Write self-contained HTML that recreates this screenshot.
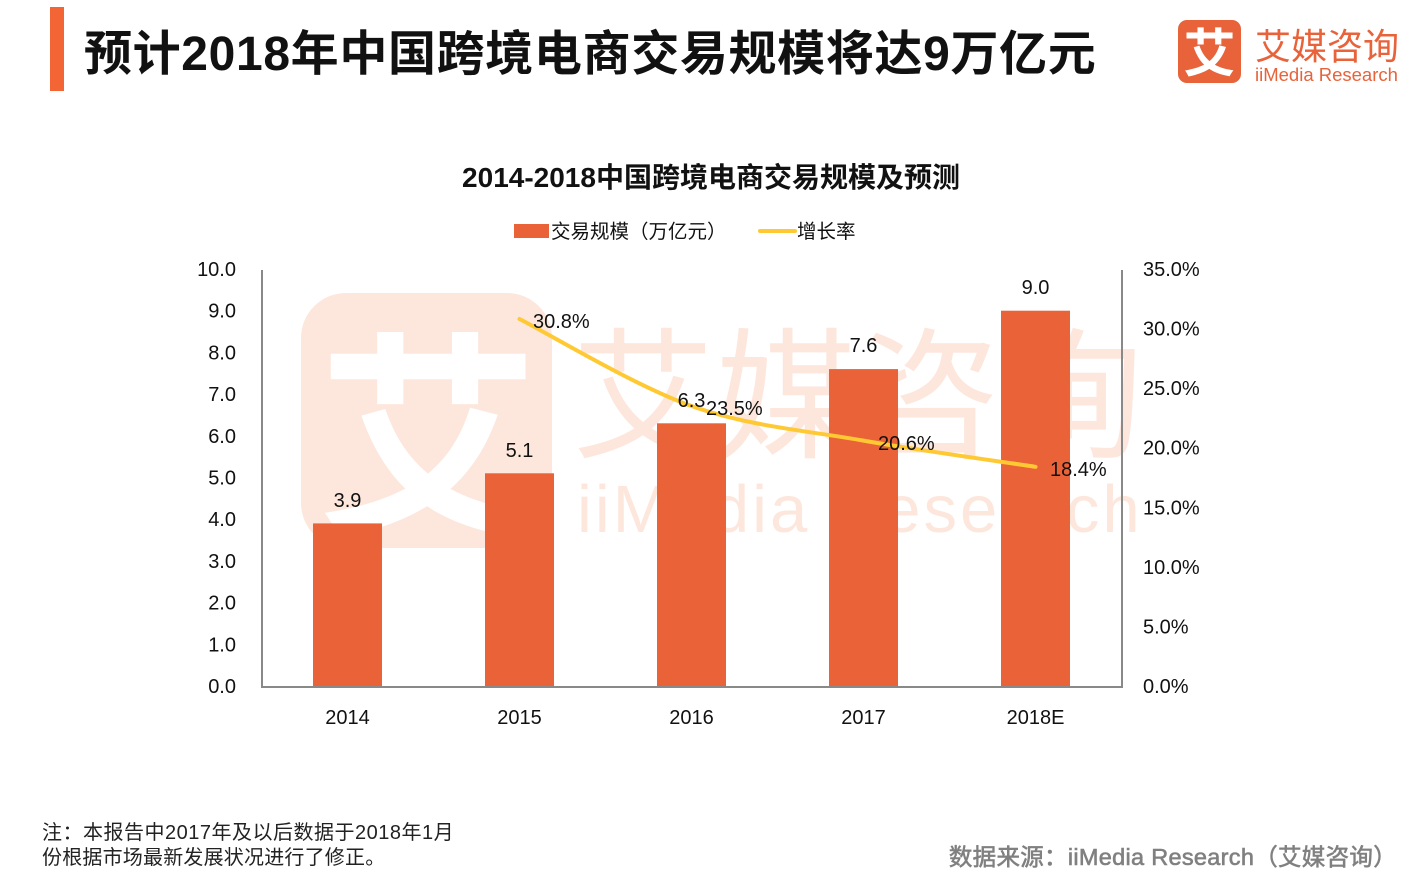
<!DOCTYPE html>
<html><head><meta charset="utf-8">
<style>
html,body{margin:0;padding:0;background:#fff;}
svg{display:block;}
text{font-family:"Liberation Sans","Noto Sans CJK SC",sans-serif;}
</style></head>
<body>
<svg width="1427" height="881" viewBox="0 0 1427 881" xmlns="http://www.w3.org/2000/svg">
<rect x="0" y="0" width="1427" height="881" fill="#fff"/>
<!-- header -->
<rect x="50" y="7" width="14" height="84" fill="#F46535"/>
<text x="84" y="70" font-size="48" font-weight="bold" fill="#111" letter-spacing="0.65">预计2018年中国跨境电商交易规模将达9万亿元</text>
<!-- logo -->
<rect x="1178" y="20" width="63" height="63" rx="9" fill="#E8623A"/>
<text x="1209.5" y="72" font-size="52" font-weight="bold" fill="#fff" text-anchor="middle">艾</text>
<text x="1255" y="59" font-size="36" fill="#E8623A">艾媒咨询</text>
<text x="1255" y="81" font-size="18.5" fill="#E8623A">iiMedia Research</text>

<!-- watermark -->
<rect x="301" y="293" width="251" height="255" rx="45" fill="#FDE7DD"/>
<text x="428" y="519" font-size="220" font-weight="bold" fill="#fff" text-anchor="middle">艾</text>
<text x="572" y="447" font-size="142" fill="#FDE7DD" letter-spacing="1">艾媒咨询</text>
<text x="577" y="532" font-size="67" fill="#FDE7DD" letter-spacing="3">iiMedia Research</text>

<!-- chart title -->
<text x="711" y="187" font-size="28" font-weight="bold" fill="#111" text-anchor="middle">2014-2018中国跨境电商交易规模及预测</text>

<!-- legend -->
<rect x="514" y="224" width="35" height="14" fill="#E96238"/>
<text x="551" y="238" font-size="19.5" fill="#111">交易规模（万亿元）</text>
<line x1="760" y1="231" x2="795" y2="231" stroke="#FFC933" stroke-width="4" stroke-linecap="round"/>
<text x="797" y="238" font-size="19.5" fill="#111">增长率</text>

<!-- bars -->
<g fill="#E96238">
<rect x="313" y="523.4" width="69" height="163.6"/>
<rect x="485" y="473.3" width="69" height="213.7"/>
<rect x="657" y="423.3" width="69" height="263.7"/>
<rect x="829" y="369.1" width="69" height="317.9"/>
<rect x="1001" y="310.7" width="69" height="376.3"/>
</g>

<!-- axes -->
<g stroke="#898989" stroke-width="2" fill="none">
<line x1="262" y1="270" x2="262" y2="688"/>
<line x1="261" y1="687" x2="1123" y2="687"/>
<line x1="1122" y1="270" x2="1122" y2="688"/>
</g>

<!-- left ticks -->
<g font-size="20" fill="#111" text-anchor="end">
<text x="236" y="276">10.0</text>
<text x="236" y="317.7">9.0</text>
<text x="236" y="359.4">8.0</text>
<text x="236" y="401.1">7.0</text>
<text x="236" y="442.8">6.0</text>
<text x="236" y="484.5">5.0</text>
<text x="236" y="526.2">4.0</text>
<text x="236" y="567.9">3.0</text>
<text x="236" y="609.6">2.0</text>
<text x="236" y="651.3">1.0</text>
<text x="236" y="693">0.0</text>
</g>
<!-- right ticks -->
<g font-size="20" fill="#111" text-anchor="start">
<text x="1143" y="276">35.0%</text>
<text x="1143" y="335.6">30.0%</text>
<text x="1143" y="395.1">25.0%</text>
<text x="1143" y="454.7">20.0%</text>
<text x="1143" y="514.3">15.0%</text>
<text x="1143" y="573.9">10.0%</text>
<text x="1143" y="633.4">5.0%</text>
<text x="1143" y="693">0.0%</text>
</g>
<!-- x labels -->
<g font-size="20" fill="#111" text-anchor="middle">
<text x="347.5" y="724">2014</text>
<text x="519.5" y="724">2015</text>
<text x="691.5" y="724">2016</text>
<text x="863.5" y="724">2017</text>
<text x="1035.5" y="724">2018E</text>
</g>

<!-- line -->
<path d="M519.5,319 C548.2,333.5 634.2,385.7 691.5,406 C748.8,426.3 806.2,430.5 863.5,440.6 C920.8,450.7 1006.8,462.4 1035.5,466.8" stroke="#FFC933" stroke-width="4" fill="none" stroke-linecap="round"/>

<!-- bar value labels -->
<g font-size="20" fill="#111" text-anchor="middle">
<text x="347.5" y="507">3.9</text>
<text x="519.5" y="457">5.1</text>
<text x="691.5" y="407">6.3</text>
<text x="863.5" y="352">7.6</text>
<text x="1035.5" y="294">9.0</text>
</g>
<!-- percent labels -->
<g font-size="20" fill="#111">
<text x="533" y="328">30.8%</text>
<text x="706" y="415">23.5%</text>
<text x="878" y="450">20.6%</text>
<text x="1050" y="476">18.4%</text>
</g>

<!-- footnote -->
<text x="42" y="839" font-size="20" fill="#222" letter-spacing="0.5">注：本报告中2017年及以后数据于2018年1月</text>
<text x="42" y="864" font-size="20" fill="#222" letter-spacing="0.2">份根据市场最新发展状况进行了修正。</text>
<text x="1397" y="865" font-size="23.5" fill="#808080" stroke="#808080" stroke-width="0.6" text-anchor="end" letter-spacing="0.3">数据来源：iiMedia Research（艾媒咨询）</text>
</svg>
</body></html>
